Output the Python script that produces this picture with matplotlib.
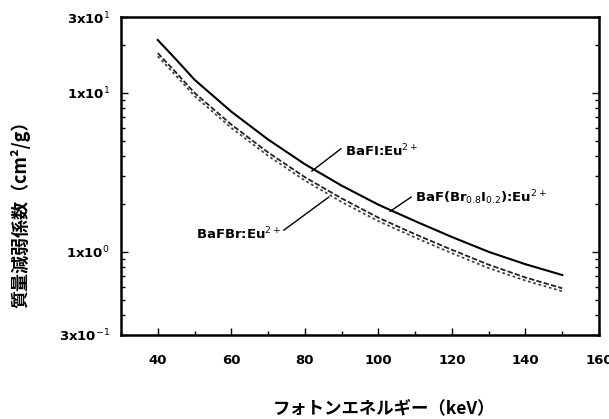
import matplotlib
matplotlib.use("Agg")
import matplotlib.pyplot as plt
from matplotlib.ticker import LogLocator, NullFormatter, FixedLocator, MultipleLocator

plt.rcParams['font.family'] = ['Noto Sans CJK JP', 'DejaVu Sans']

energy = [40, 45, 50, 60, 70, 80, 90, 100, 110, 120, 130, 140, 150]
bafi = [21.5, 16.2, 12.1, 7.62, 5.09, 3.56, 2.61, 1.98, 1.56, 1.24, 1.00, 0.836, 0.715]
bafbri = [17.8, 13.4, 10.0, 6.32, 4.22, 2.95, 2.17, 1.64, 1.29, 1.03, 0.83, 0.69, 0.59]
bafbr = [17.0, 12.8, 9.55, 6.02, 4.02, 2.81, 2.06, 1.56, 1.23, 0.98, 0.79, 0.66, 0.565]

xticks = [40, 60, 80, 100, 120, 140, 160]
yticks = [0.3, 1, 10, 30]
ylabels = ['3x10$^{-1}$', '1x10$^{0}$', '1x10$^{1}$', '3x10$^{1}$']

fig = plt.figure(figsize=(6.09, 4.19), dpi=100)
ax = fig.add_axes([0.1987, 0.2005, 0.9836 - 0.1987, 0.9594 - 0.2005])

ax.plot(energy, bafi, color='black', lw=1.5, ls='-')
ax.plot(energy, bafbri, color='#222222', lw=1.3, ls=(0, (3, 1.2)))
ax.plot(energy, bafbr, color='#444444', lw=1.3, ls=(0, (1.5, 1.5)))

ax.set_yscale('log')
ax.set_xlim(30, 160)
ax.set_ylim(0.3, 30)
ax.xaxis.set_major_locator(FixedLocator(xticks))
ax.xaxis.set_minor_locator(MultipleLocator(10))
ax.set_xticklabels([str(t) for t in xticks])
ax.yaxis.set_major_locator(FixedLocator(yticks))
ax.set_yticklabels(ylabels)
ax.yaxis.set_minor_locator(LogLocator(base=10, subs=range(2, 10)))
ax.yaxis.set_minor_formatter(NullFormatter())

for s in ax.spines.values():
    s.set_linewidth(1.8)
ax.tick_params(which='both', direction='in', right=True, top=False, width=1.0)
ax.tick_params(which='major', length=5, labelsize=9.5)
ax.tick_params(which='minor', length=3)
ax.tick_params(axis='x', which='major', pad=14)
ax.tick_params(axis='y', which='major', pad=8)
for lab in ax.get_xticklabels() + ax.get_yticklabels():
    lab.set_fontweight('bold')
    lab.set_family(['DejaVu Sans'])

# annotations
tk = dict(fontsize=9.5, fontweight='bold', family=['DejaVu Sans'], va='center')
lk = dict(lw=1.0, color='black')
# BaFI
ax.plot([81.9, 89.8], [3.22, 4.45], **lk)
ax.text(90.8, 4.3, 'BaFI:Eu$^{2+}$', ha='left', **tk)
# BaF(Br0.8I0.2)
ax.plot([103.2, 108.9], [1.80, 2.21], **lk)
ax.text(110.0, 2.18, 'BaF(Br$_{0.8}$I$_{0.2}$):Eu$^{2+}$', ha='left', **tk)
# BaFBr
ax.plot([74.3, 86.5], [1.37, 2.21], **lk)
ax.text(73.6, 1.29, 'BaFBr:Eu$^{2+}$', ha='right', **tk)

fig.text(0.033, 0.50, '質量減弱係数（cm²/g）', rotation=90, ha='center', va='center',
         fontsize=13, fontweight='bold', family=['Noto Sans CJK JP', 'DejaVu Sans'])
fig.text(0.63, 0.026, 'フォトンエネルギー（keV）', ha='center', va='center',
         fontsize=12.5, fontweight='bold', family=['Noto Sans CJK JP', 'DejaVu Sans'])

fig.savefig('out.png', dpi=100)
